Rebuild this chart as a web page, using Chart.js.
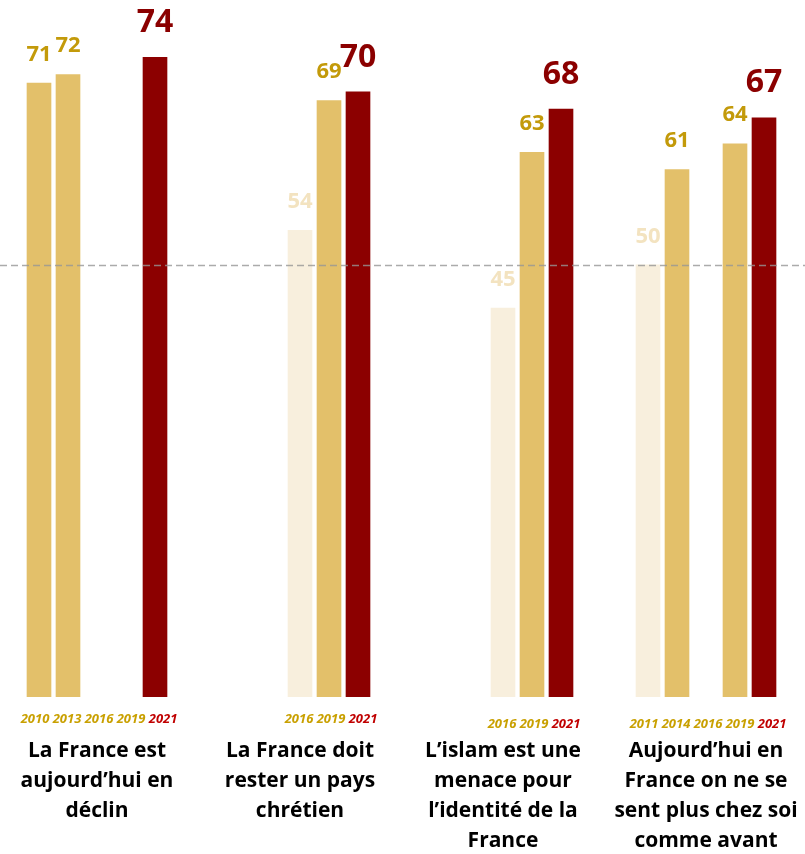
<!DOCTYPE html>
<html>
<head>
<meta charset="utf-8">
<script src="https://cdn.jsdelivr.net/npm/chart.js@4/dist/chart.umd.min.js"></script>
<style>
  body { margin: 0; background: #fff; }
  canvas { display: block; }
</style>
</head>
<body>
<canvas id="chart" width="805" height="854"></canvas>
<script>
// survey items, one group of bars each
const groupTitles = [
  ["La France est", "aujourd\u2019hui en", "déclin"],
  ["La France doit", "rester un pays", "chrétien"],
  ["L\u2019islam est une", "menace pour", "l\u2019identité de la", "France"],
  ["Aujourd\u2019hui en", "France on ne se", "sent plus chez soi", "comme avant"]
];
const groupYears = [
  ["2010", "2013", "2016", "2019", "2021"],
  ["2016", "2019", "2021"],
  ["2016", "2019", "2021"],
  ["2011", "2014", "2016", "2019", "2021"]
];
// % agreeing, null = no measure that year
const groupValues = [
  [71, 72, null, null, 74],
  [54, 69, 70],
  [45, 63, 68],
  [50, 61, null, 64, 67]
];
const groupTones = [
  ["gold", "gold", "gold", "gold", "red"],
  ["pale", "gold", "red"],
  ["pale", "gold", "red"],
  ["pale", "gold", "gold", "gold", "red"]
];
const referenceLine = 50;

const barColors = { pale: "#F8EFDD", gold: "#E3C06A", red: "#8C0000" };
const labelColors = { pale: "#F3E3C0", gold: "#C39A0A", red: "#8B0000" };

// lay groups on a flat category axis: 5 slots per group, 2 empty slots between
const slotsPerGroup = 5;
const gapSlots = 2;
const slotCount = groupYears.length * (slotsPerGroup + gapSlots) - gapSlots;
const slotLabels = new Array(slotCount).fill("");
const slotValues = new Array(slotCount).fill(null);
const slotTones = new Array(slotCount).fill("gold");
const groupSlots = [];

groupYears.forEach((years, g) => {
  const start = g * (slotsPerGroup + gapSlots) + (slotsPerGroup - years.length);
  const used = [];
  years.forEach((year, i) => {
    const s = start + i;
    slotLabels[s] = year;
    slotValues[s] = groupValues[g][i];
    slotTones[s] = groupTones[g][i];
    used.push(s);
  });
  groupSlots.push({ used, middle: g * (slotsPerGroup + gapSlots) + 2 });
});

const FONT = "'Open Sans', 'DejaVu Sans', sans-serif";

const annotations = {
  id: "annotations",
  afterDatasetsDraw(chart) {
    const { ctx, scales } = chart;
    const x = scales.x, y = scales.y;

    // dashed reference line
    const ly = Math.round(y.getPixelForValue(referenceLine)) + 0.5;
    ctx.save();
    ctx.strokeStyle = "rgba(150,150,150,0.8)";
    ctx.lineWidth = 1.3;
    ctx.setLineDash([7, 4]);
    ctx.beginPath();
    ctx.moveTo(0, ly);
    ctx.lineTo(chart.width, ly);
    ctx.stroke();
    ctx.restore();

    // value labels above bars
    const meta = chart.getDatasetMeta(0);
    ctx.save();
    ctx.textAlign = "center";
    ctx.textBaseline = "alphabetic";
    meta.data.forEach((bar, i) => {
      const v = slotValues[i];
      if (v === null) return;
      const tone = slotTones[i];
      const big = tone === "red";
      ctx.font = (big ? "bold 32px " : "bold 22px ") + FONT;
      ctx.fillStyle = labelColors[tone];
      ctx.fillText(String(v), bar.x, bar.y - (big ? 25 : 22));
    });
    ctx.restore();

    // year row and item titles under each group
    const bottom = chart.chartArea.bottom;
    groupSlots.forEach((grp, g) => {
      const first = x.getPixelForValue(grp.used[0]);
      const last = x.getPixelForValue(grp.used[grp.used.length - 1]);
      const cx = (first + last) / 2 + 2;

      ctx.save();
      ctx.font = "italic bold 13px " + FONT;
      ctx.textBaseline = "middle";
      ctx.textAlign = "left";
      const years = groupYears[g];
      const space = ctx.measureText(" ").width;
      const total = years.reduce((w, t) => w + ctx.measureText(t).width, 0) + space * (years.length - 1);
      let px = cx - total / 2;
      const yy = bottom + (g < 2 ? 22 : 27);
      years.forEach(t => {
        ctx.fillStyle = t === "2021" ? "#C00000" : "#C9A000";
        ctx.fillText(t, px, yy);
        px += ctx.measureText(t).width + space;
      });
      ctx.restore();

      ctx.save();
      ctx.font = "bold 21px " + FONT;
      ctx.fillStyle = "#000";
      ctx.textAlign = "center";
      ctx.textBaseline = "alphabetic";
      const tx = x.getPixelForValue(grp.middle);
      groupTitles[g].forEach((line, k) => {
        ctx.fillText(line, tx, bottom + 60 + k * 30);
      });
      ctx.restore();
    });
  }
};

new Chart(document.getElementById("chart"), {
  type: "bar",
  data: {
    labels: slotLabels,
    datasets: [{
      data: slotValues,
      backgroundColor: slotTones.map(t => barColors[t]),
      borderWidth: 0,
      barPercentage: 0.85,
      categoryPercentage: 1.0
    }]
  },
  options: {
    responsive: false,
    animation: false,
    layout: { padding: { top: 5, bottom: 157, left: 24.5, right: 26.5 } },
    plugins: {
      legend: { display: false },
      tooltip: { enabled: false }
    },
    scales: {
      x: { display: false },
      y: { display: false, min: 0, max: 80 }
    }
  },
  plugins: [annotations]
});
</script>
</body>
</html>
